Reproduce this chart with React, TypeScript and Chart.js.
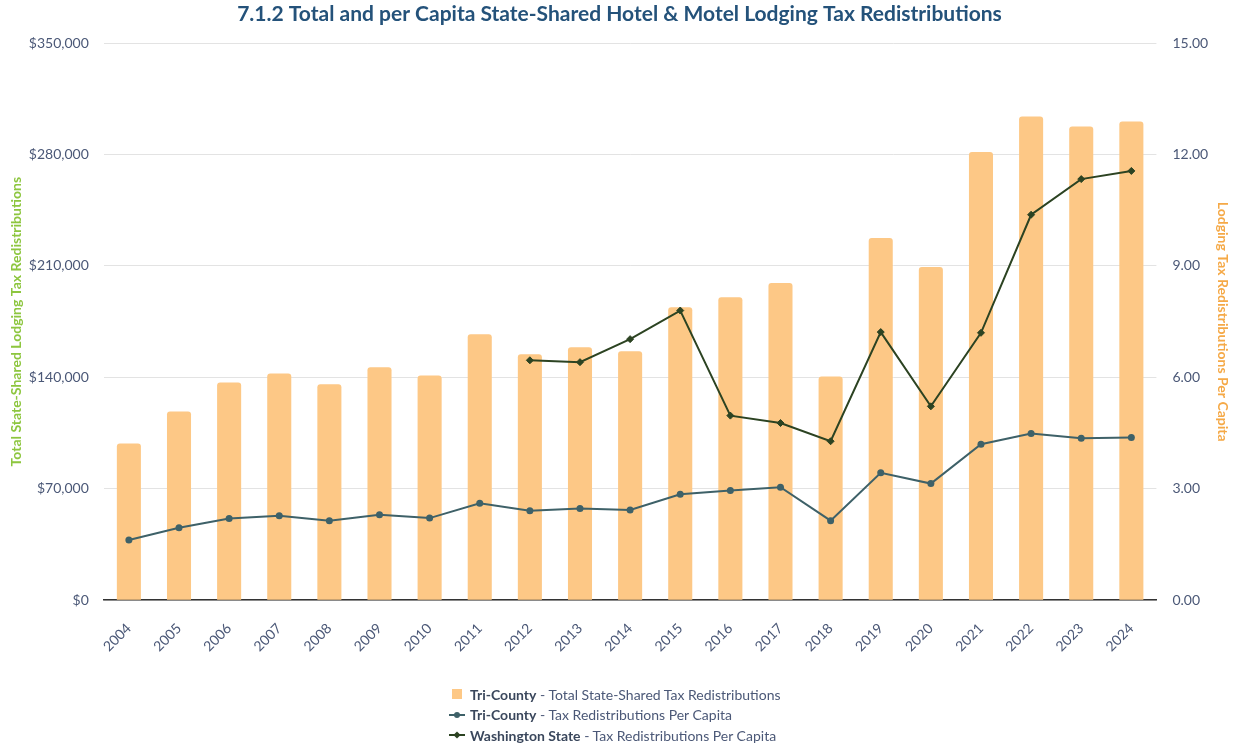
import React, { useEffect, useRef } from "react";
import { Chart, registerables } from "chart.js";

Chart.register(...registerables);

const years = ["2004","2005","2006","2007","2008","2009","2010","2011","2012","2013","2014","2015","2016","2017","2018","2019","2020","2021","2022","2023","2024"];

const triCountyTotal = [98400, 118500, 136800, 142500, 135600, 146300, 141200, 167100, 154500, 158900, 156400, 184100, 190400, 199300, 140600, 227600, 209400, 281700, 303900, 297600, 300800];

const triCountyPerCapita = [1.62, 1.95, 2.2, 2.27, 2.14, 2.3, 2.21, 2.61, 2.41, 2.47, 2.43, 2.85, 2.95, 3.04, 2.14, 3.43, 3.14, 4.2, 4.49, 4.36, 4.38];

const waPerCapita = [null, null, null, null, null, null, null, null, 6.46, 6.41, 7.03, 7.8, 4.97, 4.77, 4.28, 7.22, 5.22, 7.2, 10.38, 11.34, 11.56];

const leftTicks = [0, 70000, 140000, 210000, 280000, 350000];
const rightTicks = [0, 3, 6, 9, 12, 15];

const BAR = "#FDC886";
const TC = "#3E6168";
const WA = "#2C4322";
const TICK = "#4B5877";

export default function App() {
  const ref = useRef<HTMLCanvasElement | null>(null);

  useEffect(() => {
    if (!ref.current) return;
    const chart = new Chart(ref.current, {
      data: {
        labels: years,
        datasets: [
          {
            type: "line",
            label: "Washington State - Tax Redistributions Per Capita",
            data: waPerCapita,
            yAxisID: "yR",
            borderColor: WA,
            backgroundColor: WA,
            borderWidth: 2,
            pointStyle: "rectRot",
            pointRadius: 3.5,
            pointBorderWidth: 1,
            tension: 0,
            spanGaps: false,
            order: 0,
          },
          {
            type: "line",
            label: "Tri-County - Tax Redistributions Per Capita",
            data: triCountyPerCapita,
            yAxisID: "yR",
            borderColor: TC,
            backgroundColor: TC,
            borderWidth: 2,
            pointStyle: "circle",
            pointRadius: 3.5,
            pointBorderWidth: 0,
            tension: 0,
            order: 1,
          },
          {
            type: "bar",
            label: "Tri-County - Total State-Shared Tax Redistributions",
            data: triCountyTotal,
            yAxisID: "yL",
            backgroundColor: BAR,
            borderRadius: 3,
            borderSkipped: "start",
            categoryPercentage: 1,
            barPercentage: 0.48,
            order: 2,
          },
        ],
      } as any,
      options: {
        animation: false,
        responsive: true,
        maintainAspectRatio: false,
        layout: { padding: { left: 8, right: 3, top: 0, bottom: 92 } },
        plugins: {
          legend: { display: false },
          tooltip: { enabled: false },
          title: {
            display: true,
            text: "7.1.2 Total and per Capita State-Shared Hotel & Motel Lodging Tax Redistributions",
            color: "#24527A",
            font: { family: "Lato", size: 21, weight: "bold" },
            padding: { top: 2, bottom: 16 },
          },
        },
        scales: {
          x: {
            grid: {
              display: true,
              drawOnChartArea: false,
              drawTicks: true,
              tickLength: 18,
              tickColor: "rgba(0,0,0,0)",
              color: "rgba(0,0,0,0)",
            },
            border: { display: true, color: "#333333", width: 1.5 },
            ticks: {
              color: TICK,
              font: { family: "Lato", size: 14 },
              minRotation: 45,
              maxRotation: 45,
              autoSkip: false,
              padding: 2,
            },
          },
          yL: {
            type: "linear",
            position: "left",
            min: 0,
            max: 350000,
            afterBuildTicks: (axis: any) => {
              axis.ticks = leftTicks.map((v) => ({ value: v }));
            },
            grid: {
              color: "#E3E3E3",
              lineWidth: 1,
              drawTicks: true,
              tickLength: 13,
              tickColor: "rgba(0,0,0,0)",
            },
            border: { display: false },
            ticks: {
              color: TICK,
              font: { family: "Lato", size: 14 },
              padding: 2,
              callback: (v: any) => "$" + Number(v).toLocaleString("en-US"),
            },
            title: {
              display: true,
              text: "Total State-Shared Lodging Tax Redistributions",
              color: "#8DC63F",
              font: { family: "Lato", size: 14, weight: "bold" },
              padding: { top: 0, bottom: 2 },
            },
          },
          yR: {
            type: "linear",
            position: "right",
            min: 0,
            max: 15,
            afterBuildTicks: (axis: any) => {
              axis.ticks = rightTicks.map((v) => ({ value: v }));
            },
            grid: {
              display: true,
              drawOnChartArea: false,
              drawTicks: true,
              tickLength: 14,
              tickColor: "rgba(0,0,0,0)",
              color: "rgba(0,0,0,0)",
            },
            border: { display: false },
            ticks: {
              color: TICK,
              font: { family: "Lato", size: 14 },
              padding: 2,
              callback: (v: any) => Number(v).toFixed(2),
            },
            title: {
              display: true,
              text: "Lodging Tax Redistributions Per Capita",
              color: "#F5A947",
              font: { family: "Lato", size: 14, weight: "bold" },
              padding: { top: 0, bottom: 4 },
            },
          },
        },
      } as any,
    });
    return () => chart.destroy();
  }, []);

  const legendRow: React.CSSProperties = {
    position: "absolute",
    left: 449,
    height: 20,
    display: "flex",
    alignItems: "center",
    fontFamily: "Lato",
    fontSize: 14,
    color: "#4B5877",
    whiteSpace: "nowrap",
  };
  const marker = (kind: "bar" | "tc" | "wa") => {
    if (kind === "bar")
      return (
        <span style={{ width: 16, display: "inline-flex", justifyContent: "center", marginRight: 5 }}>
          <span style={{ width: 10, height: 10, background: BAR, display: "inline-block" }} />
        </span>
      );
    const c = kind === "tc" ? TC : WA;
    return (
      <span style={{ width: 16, height: 10, position: "relative", display: "inline-block", marginRight: 5 }}>
        <span style={{ position: "absolute", left: 0, top: 4, width: 16, height: 2, background: c }} />
        <span
          style={{
            position: "absolute",
            left: 5,
            top: 2,
            width: 6,
            height: 6,
            background: c,
            borderRadius: kind === "tc" ? 3 : 0,
            transform: kind === "wa" ? "rotate(45deg) scale(0.85)" : undefined,
          }}
        />
      </span>
    );
  };

  return (
    <div style={{ position: "absolute", left: 0, top: 0, width: 1234, height: 749, background: "#fff" }}>
      <canvas ref={ref} />
      <div style={{ ...legendRow, top: 684 }}>
        {marker("bar")}
        <b style={{ color: "#3A475C" }}>Tri-County</b>&nbsp;- Total State-Shared Tax Redistributions
      </div>
      <div style={{ ...legendRow, top: 704.5 }}>
        {marker("tc")}
        <b style={{ color: "#3A475C" }}>Tri-County</b>&nbsp;- Tax Redistributions Per Capita
      </div>
      <div style={{ ...legendRow, top: 725 }}>
        {marker("wa")}
        <b style={{ color: "#3A475C" }}>Washington State</b>&nbsp;- Tax Redistributions Per Capita
      </div>
    </div>
  );
}
